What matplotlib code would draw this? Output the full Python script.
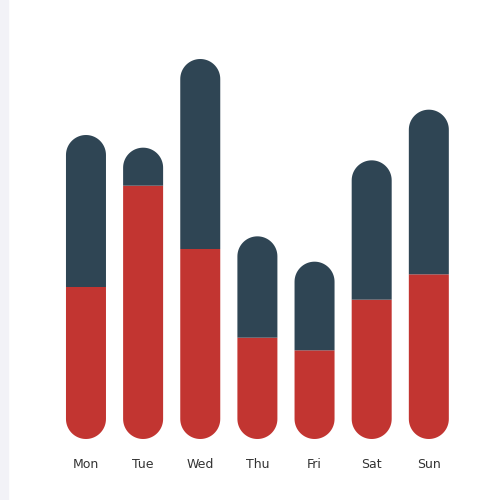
import numpy as np
import matplotlib
matplotlib.use("Agg")
import matplotlib.pyplot as plt
from matplotlib.path import Path
from matplotlib.patches import PathPatch, Rectangle

days = ["Mon", "Tue", "Wed", "Thu", "Fri", "Sat", "Sun"]
lower = [120, 200, 150, 80, 70, 110, 130]
upper = [120, 30, 150, 80, 70, 110, 130]

red = "#c23531"
navy = "#2f4554"

fig = plt.figure(figsize=(5, 5), dpi=100)
fig.patches.append(Rectangle((0, 0), 8 / 500, 1, transform=fig.transFigure,
                             color="#f2f2f7", zorder=0))
ax = fig.add_axes([57.4 / 500, 61 / 500, 400 / 500, 380 / 500])
ax.set_xlim(-0.5, 6.5)
ax.set_ylim(0, 300)
ax.axis("off")

bar_w = 0.7
# radius of the rounded ends in data units (20 px tall)
px_per_unit = 380 / 300
ry = 20 / px_per_unit
rx = bar_w / 2


def half_round(x, y0, y1, round_top):
    # bar segment from y0 to y1 with a half-ellipse on one end
    t = np.linspace(0, np.pi, 40)
    if round_top:
        yc = y1 - ry
        arc_x = x + rx * np.cos(t)
        arc_y = yc + ry * np.sin(t)
        xs = np.concatenate([[x - rx, x + rx], arc_x, [x - rx]])
        ys = np.concatenate([[y0, y0], arc_y, [y0]])
    else:
        yc = y0 + ry
        arc_x = x - rx * np.cos(t)
        arc_y = yc - ry * np.sin(t)
        xs = np.concatenate([[x + rx, x - rx], arc_x, [x + rx]])
        ys = np.concatenate([[y1, y1], arc_y, [y1]])
    return Path(np.column_stack([xs, ys]))


for i, (lo, up) in enumerate(zip(lower, upper)):
    ax.add_patch(PathPatch(half_round(i, 0, lo, False), facecolor=red,
                           edgecolor="none"))
    ax.add_patch(PathPatch(half_round(i, lo, lo + up, True), facecolor=navy,
                           edgecolor="none"))
    ax.text(i, -25 / px_per_unit, days[i], ha="center", va="center",
            fontsize=9, color="#333333", family="DejaVu Sans")

fig.savefig("out.png", dpi=100)
